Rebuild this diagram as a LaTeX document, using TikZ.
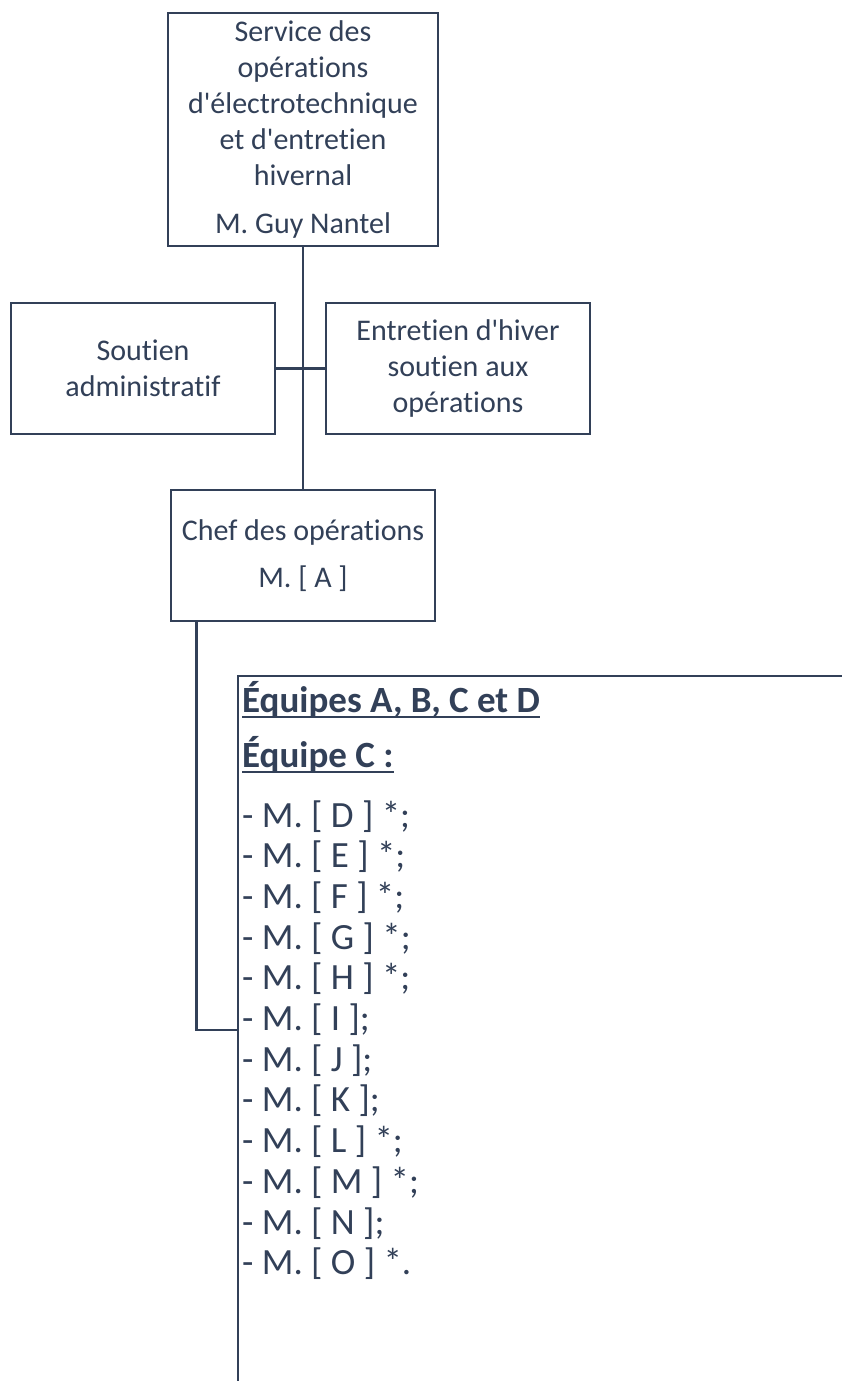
\documentclass[tikz,border=0pt]{standalone}
\usepackage{fontspec}
\setmainfont{Carlito}[Ligatures={TeXOff,NoCommon}]
\definecolor{ink}{RGB}{50,64,88}
\begin{document}
\begin{tikzpicture}[x=1pt,y=-1pt,
  box/.style={draw=ink, line width=2.6pt, text=ink, align=center, inner sep=0pt, font=\fontsize{30}{36}\selectfont},
  conn/.style={draw=ink, line width=2.6pt},
  row/.style={anchor=base west, inner sep=0pt, text=ink, font=\fontsize{37}{40}\selectfont},
  head/.style={row, font=\fontsize{37}{40}\selectfont\bfseries}]
\useasboundingbox (0,0) rectangle (841,1383);
\fill[white] (0,0) rectangle (841,1383);
\node[box, minimum width=270, minimum height=233] (top) at (303,129.5)
  {Service des\\opérations\\d'électrotechnique\\et d'entretien\\hivernal\\[12pt]M. Guy Nantel};
\node[box, minimum width=264, minimum height=131] (soutien) at (143,368.5)
  {Soutien\\administratif};
\node[box, minimum width=264, minimum height=131] (entretien) at (458,368.5)
  {Entretien d'hiver\\soutien aux\\opérations};
\node[box, minimum width=264, minimum height=131] (chef) at (303,555.5)
  {Chef des opérations\\[11pt]M. [ A ]};
\draw[conn] (top.south) -- (chef.north);
\draw[conn] (soutien.east) -- (entretien.west);
% team frame
\coordinate (tcorner) at (238,676);
\coordinate (tright) at (845,676);
\coordinate (tbottom) at (238,1381);
\coordinate (tjoin) at (238,1030);
\draw[conn] (tright) -- (tcorner) -- (tbottom);
\draw[conn] ([xshift=27pt]chef.south west) |- (tjoin);
% texts
\node[head] (h1) at (242,712) {Équipes A, B, C et D};
\node[head] (h2) at (242,767) {Équipe C :};
\draw[ink, line width=2pt] ([yshift=-5pt]h1.base west) -- ([yshift=-5pt]h1.base east);
\draw[ink, line width=2pt] ([yshift=-5pt]h2.base west) -- ([yshift=-5pt]h2.base east);
\node[row] (d) at (242,827) {- M. [ D ] *;};
\node[row] (e) at (242,867.7) {- M. [ E ] *;};
\node[row] (f) at (242,908.4) {- M. [ F ] *;};
\node[row] (g) at (242,949.1) {- M. [ G ] *;};
\node[row] (hh) at (242,989.8) {- M. [ H ] *;};
\node[row] (i) at (242,1030.5) {- M. [ I ];};
\node[row] (j) at (242,1071.2) {- M. [ J ];};
\node[row] (k) at (242,1111.9) {- M. [ K ];};
\node[row] (l) at (242,1152.6) {- M. [ L ] *;};
\node[row] (m) at (242,1193.3) {- M. [ M ] *;};
\node[row] (n) at (242,1234) {- M. [ N ];};
\node[row] (o) at (242,1274.7) {- M. [ O ] *.};
\end{tikzpicture}
\end{document}
